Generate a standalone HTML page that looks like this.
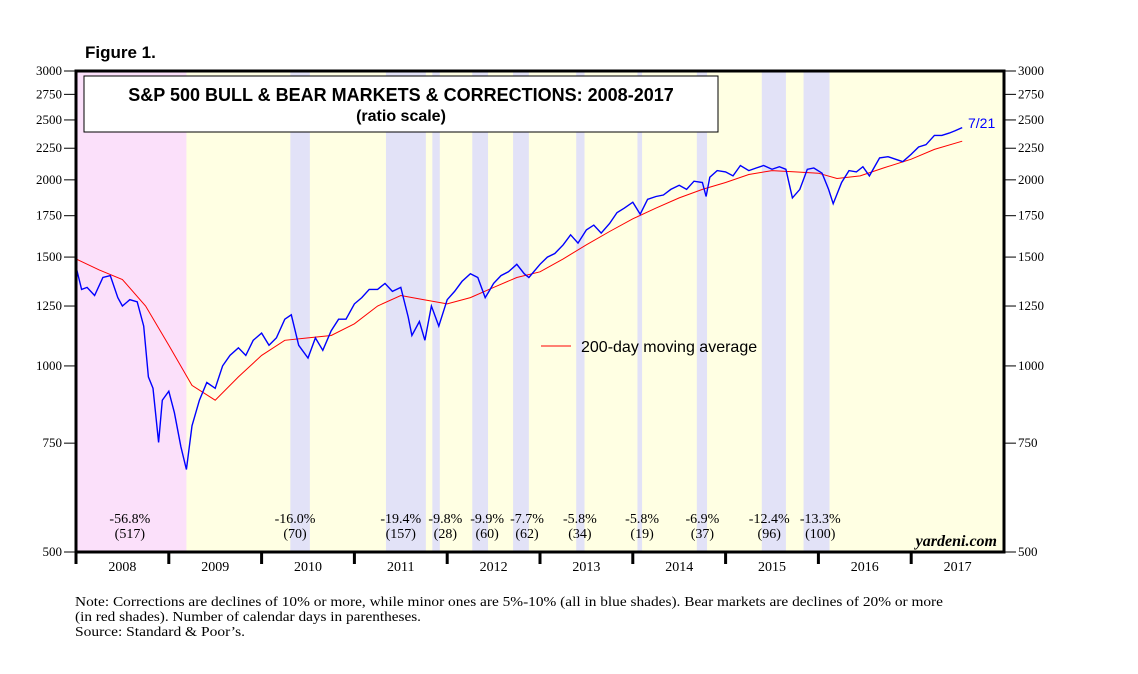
<!DOCTYPE html>
<html><head><meta charset="utf-8"><style>
body{margin:0;background:#fff;}
svg text{font-family:"Liberation Serif",serif;}
</style></head><body>
<svg id="c" width="1138" height="669" xmlns="http://www.w3.org/2000/svg">
<text x="85" y="58" style="font-family:'Liberation Sans',sans-serif;font-weight:bold;font-size:17px">Figure 1.</text>
<g id="plot"></g>
<text x="75" y="606" font-size="14" textLength="868" lengthAdjust="spacingAndGlyphs">Note: Corrections are declines of 10% or more, while minor ones are 5%-10% (all in blue shades).  Bear markets are declines of 20% or more</text>
<text x="75" y="621" font-size="14" textLength="346" lengthAdjust="spacingAndGlyphs">(in red shades). Number of calendar days in parentheses.</text>
<text x="75" y="636" font-size="14" textLength="170" lengthAdjust="spacingAndGlyphs">Source: Standard &amp; Poor’s.</text>
</svg>
<script>
const yTicks=[3000,2750,2500,2250,2000,1750,1500,1250,1000,750,500];
const years=[2008,2009,2010,2011,2012,2013,2014,2015,2016,2017];
const bearStart=[2008.0], bearEnd=[2009.19];
const corrStart=[2010.31,2011.34,2011.84,2012.27,2012.71,2013.39,2014.05,2014.69,2015.39,2015.84];
const corrEnd=[2010.52,2011.77,2011.92,2012.44,2012.88,2013.48,2014.1,2014.8,2015.65,2016.12];
const corrPct=["-56.8%","-16.0%","-19.4%","-9.8%","-9.9%","-7.7%","-5.8%","-5.8%","-6.9%","-12.4%","-13.3%"];
const corrDays=["(517)","(70)","(157)","(28)","(60)","(62)","(34)","(19)","(37)","(96)","(100)"];
const labelX=[2008.58,2010.36,2011.5,2011.98,2012.43,2012.86,2013.43,2014.1,2014.75,2015.47,2016.02];
const priceDates=[2008.0,2008.06,2008.12,2008.2,2008.29,2008.37,2008.45,2008.5,2008.58,2008.66,2008.73,2008.78,2008.83,2008.89,2008.93,2009.0,2009.06,2009.13,2009.19,2009.25,2009.33,2009.41,2009.5,2009.58,2009.66,2009.75,2009.83,2009.91,2010.0,2010.08,2010.16,2010.25,2010.32,2010.4,2010.5,2010.58,2010.66,2010.75,2010.83,2010.91,2011.0,2011.08,2011.16,2011.25,2011.33,2011.41,2011.5,2011.58,2011.62,2011.7,2011.76,2011.83,2011.91,2012.0,2012.08,2012.16,2012.25,2012.33,2012.41,2012.45,2012.5,2012.58,2012.66,2012.75,2012.83,2012.88,2013.0,2013.08,2013.16,2013.25,2013.33,2013.41,2013.5,2013.58,2013.66,2013.75,2013.83,2013.91,2014.0,2014.08,2014.16,2014.25,2014.33,2014.41,2014.5,2014.58,2014.66,2014.75,2014.79,2014.83,2014.91,2015.0,2015.08,2015.16,2015.25,2015.33,2015.41,2015.5,2015.58,2015.65,2015.72,2015.8,2015.88,2015.95,2016.04,2016.11,2016.16,2016.25,2016.33,2016.41,2016.48,2016.55,2016.66,2016.75,2016.83,2016.91,2017.0,2017.08,2017.16,2017.25,2017.33,2017.41,2017.47,2017.55];
const prices=[1447,1330,1340,1300,1390,1400,1290,1250,1280,1270,1160,960,920,752,880,910,840,740,680,800,880,940,920,1000,1040,1070,1040,1100,1130,1080,1110,1190,1210,1080,1030,1110,1060,1140,1190,1190,1260,1290,1330,1330,1360,1320,1340,1200,1120,1180,1100,1250,1160,1280,1320,1370,1410,1390,1290,1320,1360,1400,1420,1460,1410,1390,1460,1500,1520,1570,1630,1580,1660,1690,1640,1700,1770,1800,1840,1760,1860,1880,1890,1930,1960,1930,1990,1980,1880,2020,2070,2060,2030,2110,2070,2090,2110,2080,2100,2080,1870,1930,2080,2090,2050,1930,1830,1980,2070,2060,2100,2030,2170,2180,2160,2140,2200,2260,2280,2360,2360,2380,2400,2430,2440,2473];
const maDates=[2008.0,2008.25,2008.5,2008.75,2009.0,2009.25,2009.5,2009.75,2010.0,2010.25,2010.5,2010.75,2011.0,2011.25,2011.5,2011.75,2012.0,2012.25,2012.5,2012.75,2013.0,2013.25,2013.5,2013.75,2014.0,2014.25,2014.5,2014.75,2015.0,2015.25,2015.5,2015.75,2016.0,2016.2,2016.45,2016.7,2017.0,2017.25,2017.55];
const maValues=[1490,1430,1380,1250,1080,930,880,960,1040,1100,1110,1120,1170,1250,1300,1280,1260,1290,1340,1390,1420,1490,1570,1650,1730,1800,1870,1930,1980,2040,2070,2060,2050,2010,2030,2090,2160,2240,2310];

const L=76,R=1004,T=71,B=552;
const X=d=>L+(d-2008)*(R-L)/10;
const Y=v=>T+Math.log(3000/v)/Math.log(6)*(B-T);
const NS="http://www.w3.org/2000/svg";
const g=document.getElementById('plot');
function mk(tag,attrs,parent){const e=document.createElementNS(NS,tag);for(const k in attrs)e.setAttribute(k,attrs[k]);(parent||g).appendChild(e);return e;}
let e=mk('rect',{x:L,y:T,width:R-L,height:B-T,fill:'#FFFFE3'});


bearStart.forEach((s,i)=>{const r=mk('rect',{x:X(s),y:T,width:X(bearEnd[i])-X(s),height:B-T,fill:'#FBE0FA'});

});
corrStart.forEach((s,i)=>{const r=mk('rect',{x:X(s),y:T,width:X(corrEnd[i])-X(s),height:B-T,fill:'#E2E2F7'});

});
labelX.forEach((d,i)=>{const t1=mk('text',{x:X(d),y:523,'text-anchor':'middle','font-size':14});t1.textContent=corrPct[i];


const t2=mk('text',{x:X(d),y:538,'text-anchor':'middle','font-size':14});t2.textContent=corrDays[i];

});
const ma=mk('path',{d:maDates.map((d,i)=>(i?'L':'M')+X(d).toFixed(1)+','+Y(maValues[i]).toFixed(1)).join(''),fill:'none',stroke:'#f00',"stroke-width":1});


const pl=mk('path',{d:priceDates.map((d,i)=>(i?'L':'M')+X(d).toFixed(1)+','+Y(prices[i]).toFixed(1)).join(''),fill:'none',stroke:'#00f',"stroke-width":1.4});


const fr=mk('rect',{x:L,y:T,width:R-L,height:B-T,fill:'none',stroke:'#000','stroke-width':3});


yTicks.forEach(v=>{const y=Y(v);
mk('line',{x1:L-12,x2:L,y1:y,y2:y,stroke:'#000'});mk('line',{x1:R,x2:R+12,y1:y,y2:y,stroke:'#000'});
const a=mk('text',{x:L-14,y:y+4,'text-anchor':'end','font-size':13});a.textContent=v;


const b=mk('text',{x:R+14,y:y+4,'font-size':13});b.textContent=v;

});
years.forEach(yr=>{mk('line',{x1:X(yr),x2:X(yr),y1:B,y2:B+12,stroke:'#000','stroke-width':3});
const t=mk('text',{x:X(yr+0.5),y:571,'text-anchor':'middle','font-size':14});t.textContent=yr;

});
const tb=mk('rect',{x:84,y:76,width:634,height:56,fill:'#fff',stroke:'#000','stroke-width':1});


const t1=mk('text',{x:401,y:101,'text-anchor':'middle',style:"font-family:'Liberation Sans',sans-serif;font-weight:bold;font-size:18px"});t1.textContent='S&P 500 BULL & BEAR MARKETS & CORRECTIONS: 2008-2017';


const t2=mk('text',{x:401,y:121,'text-anchor':'middle',style:"font-family:'Liberation Sans',sans-serif;font-weight:bold;font-size:16px"});t2.textContent='(ratio scale)';


mk('line',{x1:541,x2:571,y1:346,y2:346,stroke:'#f00'});
const lg=mk('text',{x:581,y:352,style:"font-family:'Liberation Sans',sans-serif;font-size:16px"});lg.textContent='200-day moving average';


const dl=mk('text',{x:968,y:128,fill:'#00f',style:"font-family:'Liberation Sans',sans-serif;font-size:14px"});dl.textContent='7/21';


const yd=mk('text',{x:997,y:546,'text-anchor':'end','font-size':16,'font-style':'italic','font-weight':'bold'});yd.textContent='yardeni.com';


</script>
</body></html>
